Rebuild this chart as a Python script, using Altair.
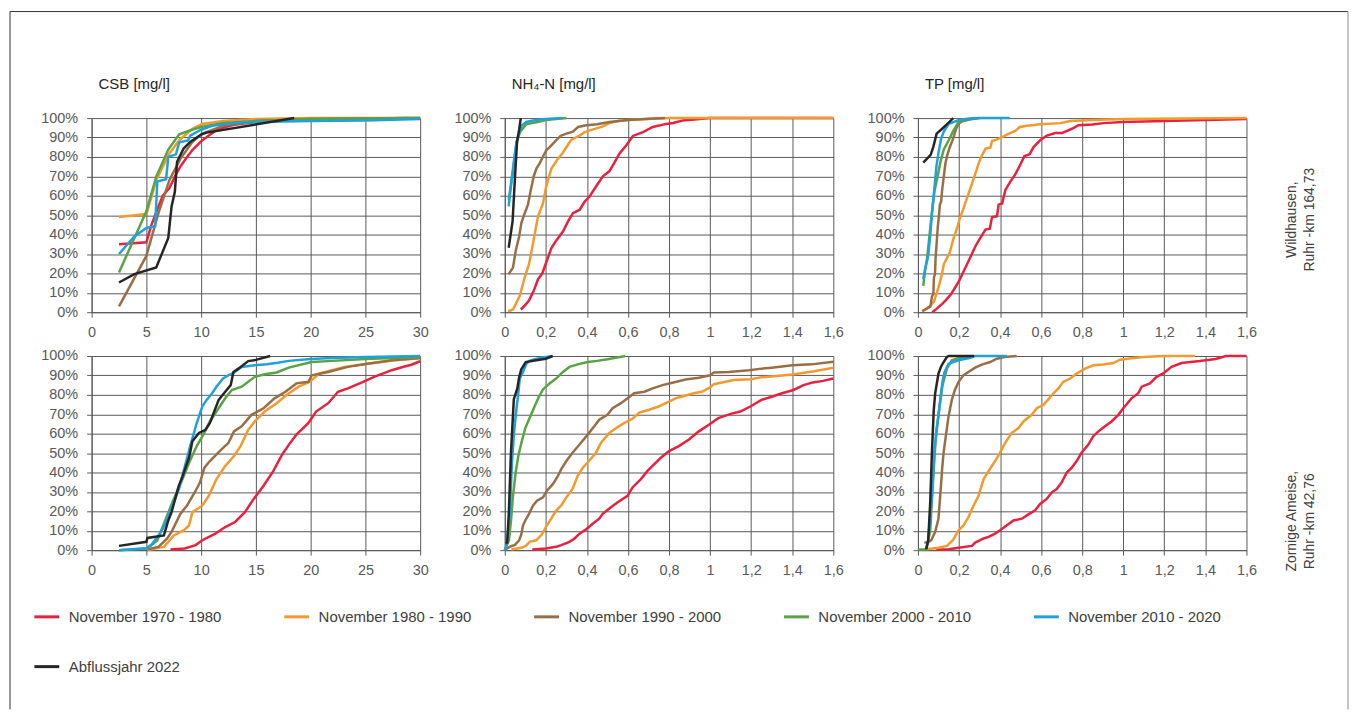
import altair as alt
import pandas as pd

SERIES = ["November 1970 - 1980", "November 1980 - 1990", "November 1990 - 2000",
          "November 2000 - 2010", "November 2010 - 2020", "Abflussjahr 2022"]
COLORS = ["#E8213F", "#F39A2E", "#9A6E45", "#58A445", "#1FA2DC", "#262626"]

CSB_TICKS = [0, 5, 10, 15, 20, 25, 30]
CONC_TICKS = [0, 0.2, 0.4, 0.6, 0.8, 1, 1.2, 1.4, 1.6]
PCT_TICKS = [0, 10, 20, 30, 40, 50, 60, 70, 80, 90, 100]

# ---------------- Wildhausen, CSB ----------------
CSB_W_1970 = [(2.5,35),(5,36),(5.4,44),(6,53),(6.5,60),(7.1,64),(7.7,71),(8.1,75),(8.6,79),(9.2,83.5),(10,88),(10.7,91),(11.6,94.5),(13,96.5),(15,98),(20,99.3),(25,99.8),(30,100)]
CSB_W_1980 = [(2.5,49),(5,50.6),(5.5,60),(5.9,68),(6.5,75),(7.1,81.8),(8,88.6),(9.2,94.5),(10.1,97),(12,98.5),(15,99.5),(20,100),(30,100)]
CSB_W_1990 = [(2.5,3),(5,29),(6.1,51),(7.1,68),(8.1,79),(9.2,87.7),(10.1,92),(12,96),(15,98.5),(20,99.5),(29,100)]
CSB_W_2000 = [(2.5,20.5),(5,52),(5.9,69.8),(7,83.8),(8,91.6),(9,93.7),(10,95.4),(12,97.5),(15,98.5),(20,99.5),(30,100)]
CSB_W_2010 = [(2.5,30),(3.9,39),(5,43.4),(5.8,44.3),(6,67.3),(6.8,68.5),(7,80),(7.7,81.3),(8,87.5),(8.8,88.5),(9,91),(10,94),(11,96),(13,97.5),(15,98),(20,98.5),(25,98.8),(30,99.5)]
CSB_W_2022 = [(2.5,15.3),(3.9,19.6),(5.9,23),(7,38.3),(7.3,54.5),(7.6,62),(7.8,77.5),(8.4,84.3),(9,87.7),(10,91.5),(10.5,92.5),(18.5,100)]

# ---------------- Wildhausen, NH4-N ----------------
NH4_W_1970 = [(0.078,1.4),(0.097,3.4),(0.118,6),(0.141,11),(0.162,17),(0.183,20),(0.203,26),(0.227,33),(0.251,37),(0.284,41.7),(0.308,46.8),(0.332,51),(0.365,52.8),(0.389,57),(0.413,59.6),(0.446,65),(0.478,70),(0.51,72.7),(0.527,75.8),(0.559,81.8),(0.592,86),(0.624,90.8),(0.673,92.8),(0.721,95.4),(0.786,97),(0.82,97.5),(0.867,98.8),(0.95,99.5),(1.0,100),(1.6,100)]
NH4_W_1980 = [(0.016,0.5),(0.04,1.4),(0.073,8.5),(0.097,18),(0.118,24.7),(0.135,34),(0.154,45),(0.162,49.4),(0.186,56),(0.2,64),(0.216,70),(0.227,74),(0.259,79),(0.28,81.8),(0.3,85),(0.324,88.9),(0.365,91),(0.389,92.8),(0.43,94.2),(0.478,95.7),(0.51,97.4),(0.55,98.5),(0.6,99),(0.7,99.5),(0.8,100),(1.6,100)]
NH4_W_1990 = [(0.019,19.6),(0.04,23),(0.053,31.5),(0.07,39),(0.081,46),(0.097,51),(0.113,55.4),(0.125,62),(0.141,70),(0.154,74),(0.17,76.7),(0.19,81),(0.203,83.5),(0.219,85),(0.243,87.7),(0.271,90.8),(0.3,92),(0.332,93),(0.357,95.4),(0.397,96.3),(0.45,96.8),(0.51,98),(0.6,99),(0.7,99.6),(0.78,100)]
NH4_W_2000 = [(0.019,58),(0.04,72.5),(0.057,87),(0.075,93),(0.105,96.8),(0.138,97.6),(0.16,98),(0.2,99),(0.25,99.5),(0.3,100)]
NH4_W_2010 = [(0.019,54.5),(0.035,70),(0.047,80),(0.057,87.7),(0.081,96),(0.105,98),(0.15,99),(0.2,99.5),(0.28,100)]
NH4_W_2022 = [(0.019,33.2),(0.038,46.8),(0.05,70),(0.06,88),(0.07,94),(0.078,100)]

# ---------------- Wildhausen, TP ----------------
TP_W_1970 = [(0.07,0),(0.091,1.7),(0.118,4.3),(0.134,6),(0.162,9.4),(0.2,16),(0.227,22),(0.253,27.8),(0.28,34),(0.304,38.3),(0.329,42.6),(0.35,43),(0.361,49),(0.385,49.4),(0.393,55.4),(0.41,56),(0.426,63),(0.45,67.3),(0.474,71),(0.502,76.7),(0.518,80.4),(0.544,81.4),(0.564,85.2),(0.596,88.6),(0.628,91),(0.669,92.3),(0.701,92.3),(0.75,94.5),(0.782,96.3),(0.85,96.7),(0.904,97.4),(1.0,98),(1.2,98.5),(1.4,99),(1.6,99.5)]
TP_W_1980 = [(0.021,0.5),(0.053,2.6),(0.078,5.5),(0.1,12.8),(0.115,18.7),(0.126,24.7),(0.155,30.7),(0.172,37.5),(0.191,43.4),(0.202,47.7),(0.22,52.8),(0.236,58),(0.256,64),(0.269,68),(0.296,76.7),(0.308,80),(0.329,84.3),(0.353,84.8),(0.361,88.2),(0.385,89),(0.418,90.6),(0.437,91.7),(0.474,93.4),(0.496,95.4),(0.531,96),(0.596,96.8),(0.693,97.4),(0.742,98.5),(0.85,99),(1.0,99.5),(1.6,100)]
TP_W_1990 = [(0.021,0.5),(0.061,3),(0.068,8),(0.075,9.4),(0.078,17.9),(0.083,19.6),(0.086,28),(0.091,35.4),(0.097,44.3),(0.102,49.4),(0.107,55.4),(0.113,57),(0.118,63),(0.126,70),(0.134,76.7),(0.143,81),(0.155,85),(0.167,88.2),(0.176,91),(0.186,94.5),(0.2,97.4),(0.22,98.5),(0.25,99.3),(0.3,100)]
TP_W_2000 = [(0.026,13.6),(0.035,22),(0.045,28),(0.066,49.4),(0.08,62),(0.097,70.7),(0.11,77.5),(0.126,83.8),(0.15,88.6),(0.172,93.4),(0.191,96.8),(0.2,98.5),(0.23,99.5),(0.28,100)]
TP_W_2010 = [(0.026,17),(0.035,22),(0.05,29),(0.06,40),(0.07,52.8),(0.081,64.7),(0.09,75),(0.1,82),(0.107,86),(0.113,89.4),(0.126,93),(0.15,97),(0.2,99),(0.25,99.5),(0.3,100),(0.447,100)]
TP_W_2022 = [(0.026,77),(0.062,81),(0.075,85.2),(0.091,92),(0.118,94.5),(0.147,97.4),(0.172,100)]

# ---------------- Zornige Ameise, CSB ----------------
CSB_Z_1970 = [(7.2,0.3),(8.5,0.9),(9.5,2.6),(10.1,5.1),(11.3,8.5),(12.2,11.9),(13.1,14.5),(14,19.6),(14.8,26.4),(15.7,33.2),(16.6,40.8),(17.4,49.3),(18.1,55),(18.7,59.5),(19.8,65.5),(20.5,71.4),(21.6,75.7),(22.5,81.6),(23.4,83.3),(24.8,86.7),(25.8,89.3),(27.4,92.7),(28.5,94.5),(29.2,95.5),(30,97.3)]
CSB_Z_1980 = [(5.1,0),(6.6,1.7),(7.5,7.6),(8.4,10.2),(8.9,12.8),(9.2,19.6),(10.1,22.9),(10.7,28),(11.4,36.6),(12.2,43.4),(13,48.5),(13.6,53.6),(14.3,62),(14.9,66.3),(15.8,71.4),(16.9,75.7),(17.8,79.9),(18.9,84.2),(19.9,86.7),(20.8,91),(23.1,94.4),(25.2,96),(27.7,97.8),(30,98.8)]
CSB_Z_1990 = [(5.1,0.5),(6.1,1.7),(6.9,6),(7.3,9.4),(8.1,18.7),(8.7,22.9),(9.5,30.6),(9.9,34.9),(10.3,42.5),(10.8,45.9),(11.7,51),(12.5,55.3),(13,61.2),(13.7,63.8),(14.6,69.7),(15.7,73.1),(16.7,78.2),(17.7,81.6),(18.7,85.9),(19.8,86.7),(20.1,90.1),(21.6,91.8),(23.4,94.4),(25.2,96),(27.4,97.8),(30,99)]
CSB_Z_2000 = [(2.5,0),(5.1,0.9),(6,5),(6.6,13.6),(7.5,26.4),(8.3,36.6),(8.9,45),(9.6,53.6),(10.2,59.5),(10.8,66.3),(11.7,74),(12.2,78.2),(12.8,82.5),(13.7,84.2),(14.9,89.3),(15.8,90.6),(16.9,91.5),(18,94),(20.1,96.9),(22,97.5),(25,98.5),(30,99.5)]
CSB_Z_2010 = [(2.5,0),(5,1),(5.5,3),(6.1,7.6),(6.5,11),(6.9,16),(7.5,24.7),(8,32),(8.4,40.8),(9,53.6),(9.6,65.5),(10.1,74),(10.5,77.4),(11,80.8),(11.4,84.2),(12,88.4),(12.5,90.1),(13,91.5),(13.7,94.4),(14.9,95.2),(16,95.8),(17,96.5),(18,97.5),(20,98.5),(22,99),(25,99.5),(30,100)]
CSB_Z_2022 = [(2.5,2.2),(5,4.3),(5.1,6.3),(6.6,7.6),(7,15.3),(7.3,19.6),(7.95,33),(8.3,38),(8.9,47.6),(9.2,56.1),(9.8,60.4),(10.4,62),(10.8,65.5),(11.6,77.4),(12.2,81.6),(12.7,85),(12.95,91.8),(13.4,93.5),(14.3,97.4),(15,98),(16.3,100)]

# ---------------- Zornige Ameise, NH4-N ----------------
NH4_Z_1970 = [(0.134,0.3),(0.2,0.9),(0.25,1.7),(0.275,2.6),(0.315,4.3),(0.34,6),(0.364,8.5),(0.396,10.7),(0.428,13.6),(0.46,16.2),(0.477,18.7),(0.517,22.1),(0.55,24.7),(0.598,28),(0.622,32.3),(0.663,36.6),(0.695,40.8),(0.727,44.2),(0.76,47.6),(0.8,51),(0.848,53.6),(0.897,57),(0.945,61.2),(0.994,64.6),(1.04,68),(1.1,70.2),(1.147,71.4),(1.196,74),(1.25,77.4),(1.3,79),(1.35,80.8),(1.406,82.5),(1.455,85),(1.5,86.4),(1.55,87.2),(1.6,88.4)]
NH4_Z_1980 = [(0.032,0.3),(0.08,1.2),(0.1,2),(0.121,4.3),(0.153,5.1),(0.18,8),(0.2,11.9),(0.226,16.2),(0.25,20.4),(0.275,23),(0.3,27.2),(0.33,31.5),(0.355,38.3),(0.38,42.5),(0.41,45.9),(0.444,50.2),(0.469,55.3),(0.509,60.4),(0.55,63.4),(0.582,65.5),(0.622,67.7),(0.655,70.9),(0.703,72.3),(0.75,74),(0.784,75.7),(0.832,78.2),(0.873,79.4),(0.92,80.8),(0.96,81.6),(1.0,83.8),(1.018,85.5),(1.075,86.7),(1.115,87.6),(1.2,88),(1.245,89),(1.3,89.5),(1.4,90.5),(1.5,92),(1.6,94)]
NH4_Z_1990 = [(0.005,0.5),(0.03,2),(0.048,2.6),(0.07,5.1),(0.08,8),(0.089,12.8),(0.1,15.3),(0.118,18.7),(0.137,22.9),(0.157,25.5),(0.186,27.2),(0.205,30.6),(0.234,34),(0.259,38.3),(0.275,41.7),(0.3,45.9),(0.33,50.2),(0.364,54.4),(0.404,59.5),(0.436,63.8),(0.46,67.2),(0.5,69.7),(0.525,73.1),(0.566,75.7),(0.598,78.2),(0.63,80.8),(0.68,81.6),(0.72,83.3),(0.768,85),(0.816,86.2),(0.88,87.9),(0.945,88.8),(1.0,90.1),(1.018,91.5),(1.09,91.8),(1.19,92.7),(1.25,93.5),(1.3,94),(1.4,95.2),(1.495,95.7),(1.6,97)]
NH4_Z_2000 = [(0.0,0),(0.02,5),(0.03,15),(0.04,28),(0.053,40),(0.065,48),(0.081,55.3),(0.1,62.9),(0.124,68.9),(0.145,74),(0.166,79),(0.186,82.8),(0.218,85.9),(0.25,88.4),(0.283,91.8),(0.315,94.4),(0.355,95.7),(0.404,96.9),(0.45,97.5),(0.5,98.3),(0.587,100)]
NH4_Z_2010 = [(0.0,0),(0.01,3),(0.025,20),(0.035,45),(0.045,60.4),(0.057,73),(0.065,79.9),(0.073,88.4),(0.089,91.8),(0.105,96),(0.12,97.5),(0.15,98.5),(0.2,99.5),(0.23,100)]
NH4_Z_2022 = [(0.005,3.4),(0.012,4),(0.02,20),(0.03,50),(0.044,77.7),(0.061,83.3),(0.07,89),(0.08,93),(0.102,96.9),(0.153,97.8),(0.2,98.6),(0.234,100)]

# ---------------- Zornige Ameise, TP ----------------
TP_Z_1970 = [(0.089,0.3),(0.15,0.5),(0.198,1.2),(0.263,2.2),(0.279,3.9),(0.32,6),(0.344,6.8),(0.376,8.5),(0.4,10.2),(0.433,12.8),(0.465,15.3),(0.506,16.2),(0.538,18.4),(0.57,20.4),(0.595,23.8),(0.627,26.4),(0.652,29.8),(0.676,31.5),(0.7,34.9),(0.725,40),(0.749,42.5),(0.773,45.9),(0.797,50.2),(0.83,54.4),(0.854,58.7),(0.879,61.2),(0.911,63.8),(0.943,66.3),(0.976,69.7),(1.0,73.1),(1.04,78.2),(1.073,80.8),(1.09,84.2),(1.13,85.9),(1.162,89.3),(1.195,91),(1.235,94.4),(1.284,96.4),(1.373,97.4),(1.45,98.5),(1.5,100),(1.6,100)]
TP_Z_1980 = [(0.04,0.5),(0.1,1.2),(0.141,2.2),(0.17,5.1),(0.198,10.2),(0.222,12.8),(0.246,17),(0.267,22.1),(0.295,28),(0.32,36.6),(0.344,40.8),(0.376,45.9),(0.4,50.2),(0.425,55.3),(0.457,60.4),(0.49,62.9),(0.514,66.3),(0.554,69.7),(0.579,73.1),(0.611,74.8),(0.635,77.7),(0.66,80.8),(0.684,83.3),(0.708,86.7),(0.741,88.4),(0.773,91),(0.814,93.5),(0.854,95.2),(0.903,95.6),(0.952,96.4),(0.984,98.1),(1.05,99),(1.1,99.5),(1.2,100),(1.35,100)]
TP_Z_1990 = [(0.031,3.9),(0.05,4),(0.065,5.1),(0.084,9.4),(0.1,16.2),(0.11,30),(0.118,42),(0.125,50.2),(0.138,60.4),(0.149,68.9),(0.165,77.4),(0.18,82.5),(0.198,86.7),(0.222,90.1),(0.246,91.8),(0.279,94),(0.311,95.6),(0.352,96.9),(0.384,98.6),(0.42,99.5),(0.481,100)]
TP_Z_2000 = [(0.0,0.3),(0.04,0.3),(0.06,10),(0.07,30),(0.085,55),(0.1,70),(0.12,85),(0.141,93.5),(0.165,97.8),(0.2,99),(0.25,99.5),(0.27,100)]
TP_Z_2010 = [(0.04,0.5),(0.05,5),(0.07,30),(0.08,50),(0.09,62),(0.1,69),(0.11,79),(0.12,87),(0.13,91.8),(0.149,96),(0.198,97.8),(0.25,99),(0.279,100),(0.433,100)]
TP_Z_2022 = [(0.04,0.5),(0.05,5),(0.06,25),(0.068,50),(0.077,72),(0.084,80.8),(0.1,91),(0.112,94.4),(0.12,96),(0.141,99.5),(0.15,100),(0.274,100)]

FONT = "Liberation Sans"


def frame(series_lists):
    rows = []
    for name, pts in zip(SERIES, series_lists):
        for i, (x, y) in enumerate(pts):
            rows.append({"series": name, "i": i, "x": x, "y": y})
    return pd.DataFrame(rows)


ONE = pd.DataFrame({"k": [0]})

color = alt.Color("series:N", scale=alt.Scale(domain=SERIES, range=COLORS),
                  legend=alt.Legend(title=None))


def panel(series_lists, domain, ticks, title, extras=()):
    if domain[1] > 2:
        lab = "format(datum.value, 'd')"
    else:
        lab = "replace(format(datum.value, '.1~f'), '.', ',')"
    lines = alt.Chart(frame(series_lists)).mark_line(strokeWidth=2.5).encode(
        x=alt.X("x:Q", scale=alt.Scale(domain=domain, nice=False, zero=False),
                axis=alt.Axis(values=ticks, labelExpr=lab, title=None)),
        y=alt.Y("y:Q", scale=alt.Scale(domain=[0, 100], nice=False),
                axis=alt.Axis(values=PCT_TICKS, labelExpr="datum.value + '%'", title=None)),
        color=color,
        order=alt.Order("i:Q"),
    )
    ttl = alt.Chart(ONE).mark_text(align="left", baseline="alphabetic", fontSize=15,
                                   font=FONT, color="#262626").encode(
        x=alt.value(7), y=alt.value(-29), text=alt.value(title))
    return alt.layer(lines, ttl, *extras).properties(width=330, height=195)


def rowlabel(line1, line2, yc):
    t1 = alt.Chart(ONE).mark_text(angle=270, align="center", baseline="middle",
                                  fontSize=14, font=FONT, color="#404040").encode(
        x=alt.value(376), y=alt.value(yc), text=alt.value(line1))
    t2 = alt.Chart(ONE).mark_text(angle=270, align="center", baseline="middle",
                                  fontSize=14, font=FONT, color="#404040").encode(
        x=alt.value(394), y=alt.value(yc), text=alt.value(line2))
    return [t1, t2]


border_left = alt.Chart(ONE).mark_rule(color="#333333", strokeWidth=1).encode(
    x=alt.value(-82), y=alt.value(-107), y2=alt.value(594))
border_top = alt.Chart(ONE).mark_rule(color="#333333", strokeWidth=1).encode(
    x=alt.value(-82), x2=alt.value(1262), y=alt.value(-107))
border_right = alt.Chart(ONE).mark_rule(color="#888888", strokeWidth=1).encode(
    x=alt.value(1262), y=alt.value(-107), y2=alt.value(594))

p1 = panel([CSB_W_1970, CSB_W_1980, CSB_W_1990, CSB_W_2000, CSB_W_2010, CSB_W_2022],
           [0, 30], CSB_TICKS, "CSB [mg/l]", [border_left, border_top, border_right])
p2 = panel([NH4_W_1970, NH4_W_1980, NH4_W_1990, NH4_W_2000, NH4_W_2010, NH4_W_2022],
           [0, 1.6], CONC_TICKS, "NH\u2084-N [mg/l]")
p3 = panel([TP_W_1970, TP_W_1980, TP_W_1990, TP_W_2000, TP_W_2010, TP_W_2022],
           [0, 1.6], CONC_TICKS, "TP [mg/l]",
           rowlabel("Wildhausen,", "Ruhr -km 164,73", 102))
p4 = panel([CSB_Z_1970, CSB_Z_1980, CSB_Z_1990, CSB_Z_2000, CSB_Z_2010, CSB_Z_2022],
           [0, 30], CSB_TICKS, "")
p5 = panel([NH4_Z_1970, NH4_Z_1980, NH4_Z_1990, NH4_Z_2000, NH4_Z_2010, NH4_Z_2022],
           [0, 1.6], CONC_TICKS, "")
p6 = panel([TP_Z_1970, TP_Z_1980, TP_Z_1990, TP_Z_2000, TP_Z_2010, TP_Z_2022],
           [0, 1.6], CONC_TICKS, "",
           rowlabel("Zornige Ameise,", "Ruhr -km 42,76", 166))

chart = alt.concat(p1, p2, p3, p4, p5, p6, columns=3,
                   spacing=alt.RowColnumber(row=44, column=85),
                   bounds="flush").properties(
    padding={"left": 1, "top": 1, "right": 0, "bottom": 0}
).configure_view(stroke=None).configure_axis(
    grid=True, gridColor="#5a5a5a", gridWidth=1, gridOpacity=1,
    domainColor="#5a5a5a", domainWidth=1,
    tickColor="#5a5a5a", tickSize=5, tickWidth=1,
    labelFont=FONT, labelFontSize=14.5, labelColor="#595959",
).configure_axisX(labelPadding=8, labelFlush=False).configure_axisY(labelPadding=9).configure_legend(
    orient="none", legendX=-59, legendY=487, direction="horizontal", columns=5,
    symbolType="stroke", symbolSize=625, symbolStrokeWidth=3,
    labelFont=FONT, labelFontSize=15, labelColor="#404040", labelOffset=8,
    columnPadding=56, rowPadding=28, padding=0, gridAlign="all",
)

chart.save("out.html", embed_options={"renderer": "svg", "actions": False})
